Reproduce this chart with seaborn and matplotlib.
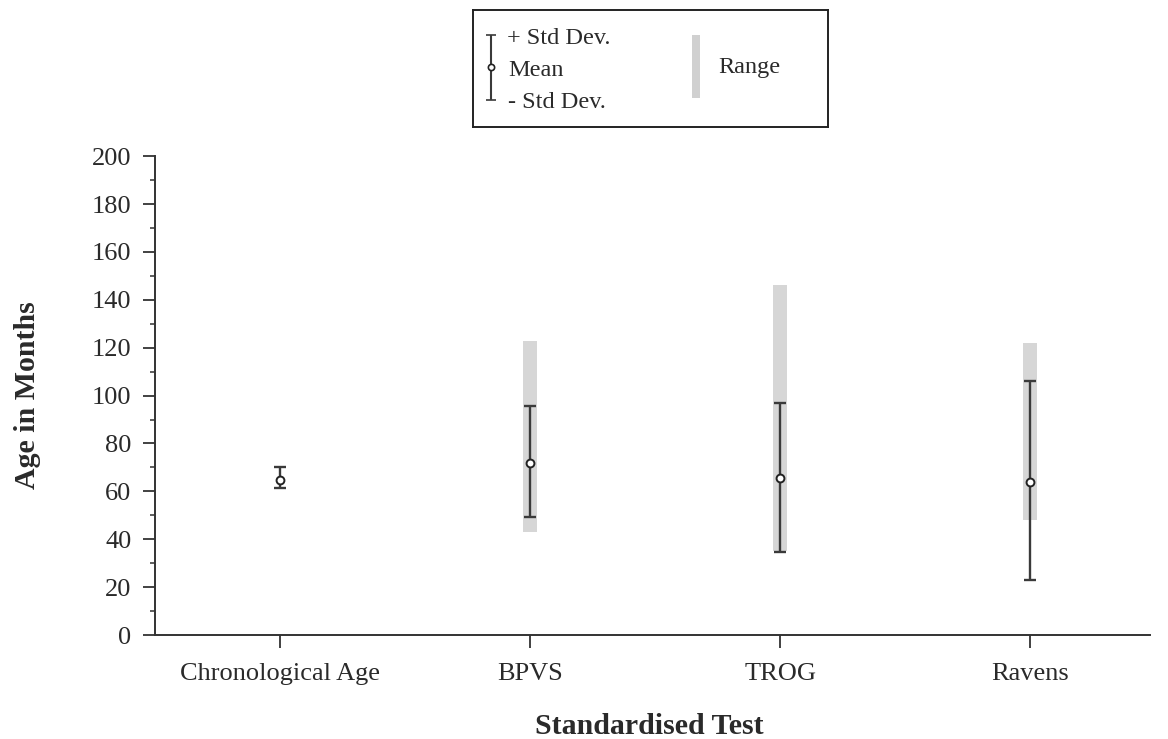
import matplotlib
matplotlib.use("Agg")
import matplotlib.pyplot as plt
import seaborn as sns
import numpy as np
import pandas as pd
from matplotlib.ticker import MultipleLocator

tests = ["Chronological Age", "BPVS", "TROG", "Ravens"]
mean_vals = [64.7, 72, 65.5, 64]
sd_upper = [70, 95.5, 97, 106]
sd_lower = [61.5, 49.5, 34.5, 23]
range_low = [np.nan, 43, 35, 48]
range_high = [np.nan, 123, 146, 122]
y_ticks = [0, 20, 40, 60, 80, 100, 120, 140, 160, 180, 200]

sns.set_theme(style="ticks")
plt.rcParams['font.family'] = ['Liberation Serif', 'DejaVu Serif']

df = pd.DataFrame({"test": tests, "mean": mean_vals, "hi": sd_upper, "lo": sd_lower,
                   "rlo": range_low, "rhi": range_high})

fig = plt.figure(figsize=(11.68, 7.39), dpi=100)
ax = fig.add_axes([0.1327, 0.1407, 0.852, 0.648])

pos = np.arange(len(tests))
# range bars
ax.bar(pos, df["rhi"] - df["rlo"], bottom=df["rlo"], width=0.055,
       color="#d6d6d6", edgecolor="none", zorder=1)
# SD error bars
ax.errorbar(pos, df["mean"], yerr=[df["mean"] - df["lo"], df["hi"] - df["mean"]],
            fmt="none", ecolor="#3a3a3a", elinewidth=1.7, capsize=4.5, capthick=1.7, zorder=2)
# means
sns.scatterplot(data=df, x="test", y="mean", ax=ax, marker="o", s=32,
                facecolor="white", edgecolor="#222222", linewidth=1.4, zorder=3)

ax.set_xlim(-0.5, 3.48)
ax.set_ylim(0, 200)
ax.set_yticks(y_ticks)
ax.yaxis.set_minor_locator(MultipleLocator(10))
ax.set_xticks(pos)
ax.set_xticklabels(tests)
ax.tick_params(axis="both", which="major", direction="out", length=9, width=1.3,
               colors="#333333", labelsize=19, labelcolor="#2a2a2a")
ax.tick_params(axis="x", which="major", pad=11)
ax.tick_params(axis="y", which="major", pad=8)
ax.tick_params(axis="y", which="minor", direction="out", length=3.6, width=1.1, colors="#333333")
for s in ["top", "right"]:
    ax.spines[s].set_visible(False)
for s in ["left", "bottom"]:
    ax.spines[s].set_color("#333333")
    ax.spines[s].set_linewidth(1.4)
ax.set_xlabel("Standardised Test", fontsize=21.5, fontweight="bold", color="#2a2a2a")
ax.set_ylabel("Age in Months", fontsize=21.5, fontweight="bold", color="#2a2a2a")
ax.xaxis.set_label_coords(0.497, -0.192)
ax.xaxis.label.set_verticalalignment("center")
ax.yaxis.set_label_coords(-0.1286, 0.5)
ax.yaxis.label.set_verticalalignment("center")
ax.grid(False)

# custom legend box
lax = fig.add_axes([473 / 1168, 1 - 127 / 739, 355 / 1168, 117 / 739])
lax.set_xlim(0, 355)
lax.set_ylim(117, 0)
lax.set_xticks([])
lax.set_yticks([])
lax.set_facecolor("white")
for s in lax.spines.values():
    s.set_color("#222222")
    s.set_linewidth(1.4)
lax.errorbar([18], [57], yerr=[[32], [33]], fmt="o", ms=4.5, mfc="white", mec="#222222",
             mew=1.2, ecolor="#3a3a3a", elinewidth=1.5, capsize=3.5, capthick=1.5)
lax.text(34, 29, "+ Std Dev.", fontsize=17.5, va="center", color="#2a2a2a")
lax.text(35, 60, "Mean", fontsize=17.5, va="center", color="#2a2a2a")
lax.text(35, 92, "- Std Dev.", fontsize=17.5, va="center", color="#2a2a2a")
lax.add_patch(plt.Rectangle((219, 25), 8, 63, color="#d0d0d0", lw=0))
lax.text(245, 58, "Range", fontsize=17.5, va="center", color="#2a2a2a")

fig.savefig("out.png", dpi=100)
